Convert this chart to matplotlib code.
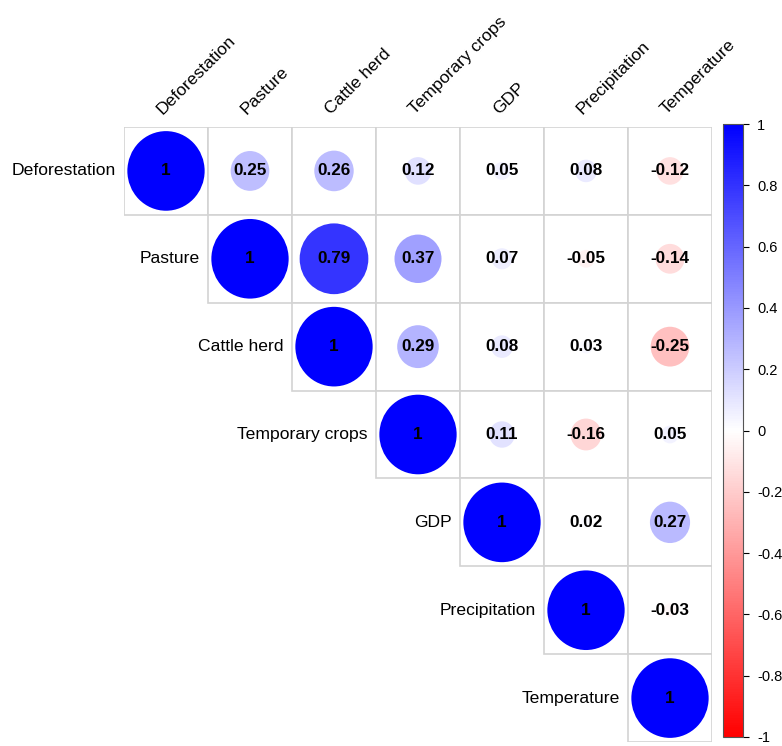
import numpy as np
import matplotlib.pyplot as plt
from matplotlib.colors import LinearSegmentedColormap, Normalize
from matplotlib.patches import Ellipse, Rectangle
from matplotlib.colorbar import ColorbarBase

plt.rcParams['font.family'] = ['Liberation Sans', 'DejaVu Sans']

labels = ['Deforestation', 'Pasture', 'Cattle herd', 'Temporary crops',
          'GDP', 'Precipitation', 'Temperature']

# upper triangle rows (from the diagonal to the right)
row_deforestation = [1, 0.25, 0.26, 0.12, 0.05, 0.08, -0.12]
row_pasture = [1, 0.79, 0.37, 0.07, -0.05, -0.14]
row_cattle = [1, 0.29, 0.08, 0.03, -0.25]
row_crops = [1, 0.11, -0.16, 0.05]
row_gdp = [1, 0.02, 0.27]
row_precip = [1, -0.03]
row_temp = [1]
rows = [row_deforestation, row_pasture, row_cattle, row_crops,
        row_gdp, row_precip, row_temp]

n = len(labels)
cmap = LinearSegmentedColormap.from_list('rwb', ['#FF0000', '#FFFFFF', '#0000FF'])
norm = Normalize(-1, 1)

fig = plt.figure(figsize=(7.82, 7.46), dpi=100)
ax = fig.add_axes([124/782, 4/746, 588/782, 615/746])
ax.set_xlim(0, n)
ax.set_ylim(n, 0)
ax.axis('off')

for i, row in enumerate(rows):
    for k, r in enumerate(row):
        j = i + k
        ax.add_patch(Rectangle((j, i), 1, 1, facecolor='white',
                               edgecolor='#D3D3D3', lw=1.2, zorder=1))
        rad = 0.46 * np.sqrt(abs(r))
        ax.add_patch(Ellipse((j + 0.5, i + 0.5), 2 * rad, 2 * rad * 0.985,
                             facecolor=cmap(norm(r)), edgecolor='none', zorder=2))
        txt = '1' if r == 1 else f'{r:.2f}'
        ax.text(j + 0.5, i + 0.5, txt, ha='center', va='center',
                fontsize=12.3, fontweight='bold', color='black', zorder=3)
    # row label, left of the diagonal cell
    ax.text(i - 0.1, i + 0.5, labels[i], ha='right', va='center',
            fontsize=12.6, clip_on=False)
    # column label on top, rotated
    ax.text(i + 0.46, -0.14, labels[i], ha='left', va='baseline',
            rotation=45, rotation_mode='anchor', fontsize=12.6, clip_on=False)

cax = fig.add_axes([723/782, 9/746, 20/782, 613/746])
cb = ColorbarBase(cax, cmap=cmap, norm=norm, orientation='vertical')
ticks = np.round(np.arange(-1, 1.01, 0.2), 1)
cb.set_ticks(ticks)
cb.set_ticklabels(['0' if t == 0 else ('1' if t == 1 else ('-1' if t == -1 else f'{t:g}')) for t in ticks])
cb.outline.set_edgecolor('#555555')
cb.outline.set_linewidth(0.8)
cax.tick_params(labelsize=10.5, length=4, width=0.8, pad=6)

plt.savefig('out.png', dpi=100)
